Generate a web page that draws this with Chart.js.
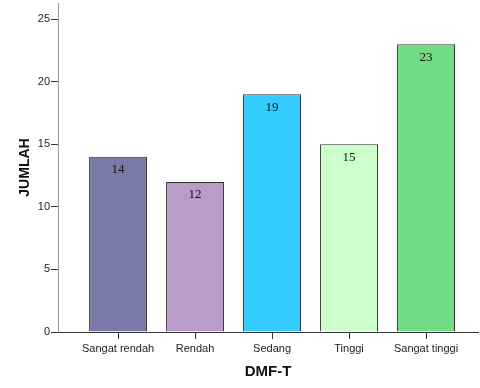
<!DOCTYPE html>
<html>
<head>
<meta charset="utf-8">
<script src="https://cdn.jsdelivr.net/npm/chart.js@4"></script>
<style>
  html, body { margin: 0; padding: 0; background: #fff; }
  #wrap { width: 480px; height: 388px; }
</style>
</head>
<body>
<div id="wrap"><canvas id="chart" width="480" height="388"></canvas></div>
<script>
// --- data ---
const categories = ['Sangat rendah', 'Rendah', 'Sedang', 'Tinggi', 'Sangat tinggi'];
const counts = [14, 12, 19, 15, 23];
const barColors = ['#7a7aa8', '#b99cca', '#33ccff', '#ccffcc', '#72dc85'];
const yTicks = [0, 5, 10, 15, 20, 25];

// value labels drawn inside the top of each bar
const barLabels = {
    id: 'barLabels',
    afterDatasetsDraw(chart) {
        const ctx = chart.ctx;
        const meta = chart.getDatasetMeta(0);
        ctx.save();
        ctx.font = '13px "Liberation Serif", "Times New Roman", serif';
        ctx.fillStyle = '#111';
        ctx.textAlign = 'center';
        ctx.textBaseline = 'middle';
        meta.data.forEach((bar, i) => {
            ctx.fillText(String(counts[i]), bar.x, bar.y + 13);
        });
        ctx.restore();
    }
};

new Chart(document.getElementById('chart'), {
    type: 'bar',
    data: {
        datasets: [{
            data: counts.map((v, i) => ({ x: i, y: v })),
            backgroundColor: barColors,
            borderColor: '#333',
            borderWidth: 1,
            barPercentage: 0.753,
            categoryPercentage: 1
        }]
    },
    options: {
        responsive: false,
        animation: false,
        layout: { padding: { top: 3, right: 2, left: 0, bottom: 0 } },
        plugins: { legend: { display: false }, tooltip: { enabled: false } },
        scales: {
            x: {
                type: 'linear',
                offset: false,
                min: -0.78,
                max: 4.675,
                afterBuildTicks: (s) => { s.ticks = categories.map((_, i) => ({ value: i })); },
                afterFit: (s) => { s.height = 56; },
                grid: { offset: false, drawOnChartArea: false, tickLength: 7, color: '#333' },
                border: { color: '#333', width: 1 },
                ticks: {
                    autoSkip: false, maxRotation: 0, padding: 3, color: '#222',
                    font: { family: 'Liberation Sans, Arial, sans-serif', size: 11 },
                    callback: (v) => categories[v] ?? ''
                },
                title: {
                    display: true, text: 'DMF-T', color: '#111',
                    font: { family: 'Liberation Sans, Arial, sans-serif', size: 15, weight: 'bold' },
                    padding: { top: 0, bottom: 7 }
                }
            },
            y: {
                min: 0,
                max: 26.3,
                afterBuildTicks: (s) => { s.ticks = yTicks.map(v => ({ value: v })); },
                afterFit: (s) => { s.width = 58; s.paddingTop = 0; s.paddingBottom = 0; },
                grid: { drawOnChartArea: false, tickLength: 7, color: '#333' },
                border: { color: '#999', width: 1 },
                ticks: {
                    padding: 1, color: '#222',
                    font: { family: 'Liberation Sans, Arial, sans-serif', size: 11 }
                },
                title: {
                    display: true, text: 'JUMLAH', color: '#111',
                    font: { family: 'Liberation Sans, Arial, sans-serif', size: 14, weight: 'bold' },
                    padding: { top: 17, bottom: 0 }
                }
            }
        }
    },
    plugins: [barLabels]
});
</script>
</body>
</html>
